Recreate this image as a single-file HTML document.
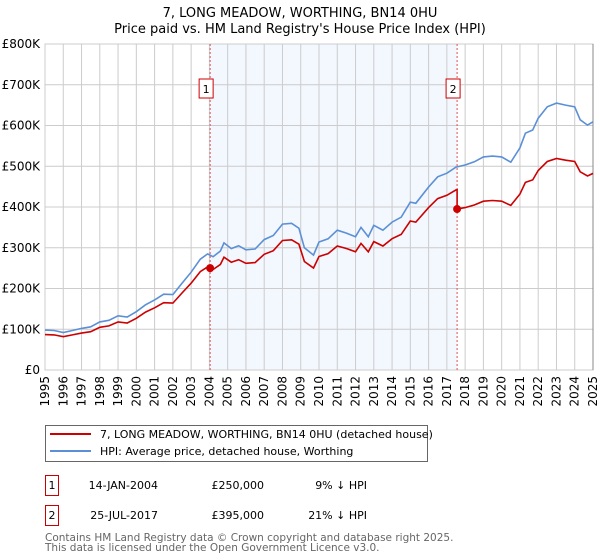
<!DOCTYPE html>
<html><head><meta charset="utf-8"><style>
body{margin:0;background:#fff;font-family:"DejaVu Sans","Liberation Sans",sans-serif;}
#wrap{position:relative;width:600px;height:560px;overflow:hidden;}
</style></head><body>
<div id="wrap">
<svg id="chart" width="600" height="560" font-family="DejaVu Sans, Liberation Sans, sans-serif"></svg>
</div>
<script>
const hpiYears=[1995,1995.5,1996,1996.5,1997,1997.5,1998,1998.5,1999,1999.5,2000,2000.5,2001,2001.5,2002,2002.5,2003,2003.5,2003.9,2004.2,2004.6,2004.8,2005.2,2005.6,2006,2006.5,2007,2007.5,2008,2008.5,2008.9,2009.2,2009.7,2010,2010.5,2011,2011.5,2012,2012.3,2012.7,2013,2013.5,2014,2014.5,2015,2015.3,2016,2016.5,2017,2017.5,2018,2018.5,2019,2019.5,2020,2020.5,2021,2021.3,2021.7,2022,2022.5,2023,2023.5,2024,2024.3,2024.7,2025];
const hpiValues=[98,97,92,97,102,106,118,122,133,130,143,160,172,186,185,213,240,272,285,278,292,312,298,305,295,297,320,330,358,360,348,300,282,314,322,343,336,327,350,327,355,343,363,375,412,409,449,474,483,498,503,511,523,525,523,510,545,581,589,618,646,655,650,646,614,601,609];
const saleDates=[2004.04,2017.56];
const salePrices=[250,395];
const yTicks=[0,100,200,300,400,500,600,700,800];
const yTickLabels=["£0","£100K","£200K","£300K","£400K","£500K","£600K","£700K","£800K"];
const xTicks=[1995,1996,1997,1998,1999,2000,2001,2002,2003,2004,2005,2006,2007,2008,2009,2010,2011,2012,2013,2014,2015,2016,2017,2018,2019,2020,2021,2022,2023,2024,2025];

const svg=document.getElementById('chart');
const NS='http://www.w3.org/2000/svg';
const L=45,R=593,T=44,B=370;
const x=v=>L+(v-1995)/30*(R-L);
const y=v=>B-v/800*(B-T);
function mk(tag,attrs,parent){const e=document.createElementNS(NS,tag);for(const k in attrs)e.setAttribute(k,attrs[k]);(parent||svg).appendChild(e);return e;}
function hpiAt(t){for(let i=0;i<hpiYears.length-1;i++){if(t<=hpiYears[i+1]){const f=(t-hpiYears[i])/(hpiYears[i+1]-hpiYears[i]);return hpiValues[i]+f*(hpiValues[i+1]-hpiValues[i]);}}return hpiValues[hpiValues.length-1];}

let t;
t=mk('text',{x:300,y:17,'text-anchor':'middle','font-size':13,fill:'#000'});t.textContent='7, LONG MEADOW, WORTHING, BN14 0HU';

t=mk('text',{x:300,y:33,'text-anchor':'middle','font-size':13,fill:'#000'});t.textContent="Price paid vs. HM Land Registry's House Price Index (HPI)";


let sh=mk('rect',{x:x(saleDates[0]),y:T,width:x(saleDates[1])-x(saleDates[0]),height:B-T,fill:'#eef3fd',opacity:0.7});


yTicks.forEach((v,i)=>{
 let g=mk('line',{x1:L,x2:R,y1:y(v),y2:y(v),stroke:'#ccc','stroke-width':1});
 
 let tx=mk('text',{x:L-5,y:y(v)+4,'text-anchor':'end','font-size':12,fill:'#000'});tx.textContent=yTickLabels[i];
 
});
xTicks.forEach(v=>{
 let g=mk('line',{x1:x(v),x2:x(v),y1:T,y2:B,stroke:'#ccc','stroke-width':1});
 
 let tx=mk('text',{x:0,y:0,'text-anchor':'end','font-size':12,fill:'#000',transform:`translate(${x(v)+4},${B+6}) rotate(-90)`});tx.textContent=v;
 
});
let ax=mk('rect',{x:L,y:T,width:R-L,height:B-T,fill:'none',stroke:'#ccc'});

let re=mk('line',{x1:R,x2:R,y1:T,y2:B,stroke:'#888','stroke-width':1});


saleDates.forEach((d,i)=>{
 let l=mk('line',{x1:x(d),x2:x(d),y1:T,y2:B,stroke:'#e05050','stroke-width':1,'stroke-dasharray':'2,2'});
 
 let bx=mk('rect',{x:x(d)-11,y:79,width:14,height:19,fill:'#fff',stroke:'#c00'});
 
 let tx=mk('text',{x:x(d)-4,y:93,'text-anchor':'middle','font-size':11,fill:'#000'});tx.textContent=String(i+1);
 
});

let hp=hpiYears.map((v,i)=>(i?'L':'M')+x(v).toFixed(1)+','+y(hpiValues[i]).toFixed(1)).join('');
let hl=mk('path',{d:hp,fill:'none',stroke:'#5b8fd6','stroke-width':1.6});


let pts=[];
const f0=salePrices[0]/hpiAt(saleDates[0]),f1=salePrices[1]/hpiAt(saleDates[1]);
hpiYears.forEach((v,i)=>{if(v<saleDates[1])pts.push([v,hpiValues[i]*f0]);});
pts.push([saleDates[1],hpiAt(saleDates[1])*f0]);
pts.push([saleDates[1],salePrices[1]]);
hpiYears.forEach((v,i)=>{if(v>saleDates[1])pts.push([v,hpiValues[i]*f1]);});
let pl=mk('path',{d:pts.map((p,i)=>(i?'L':'M')+x(p[0]).toFixed(1)+','+y(p[1]).toFixed(1)).join(''),fill:'none',stroke:'#cc0000','stroke-width':1.6});

saleDates.forEach((d,i)=>{
 let c=mk('circle',{cx:x(d),cy:y(salePrices[i]),r:4,fill:'#cc0000'});
 
});

let lg=mk('rect',{x:45.5,y:425.5,width:382,height:36,fill:'#fff',stroke:'#666'});

let l1=mk('line',{x1:50,x2:91,y1:434,y2:434,stroke:'#cc0000','stroke-width':2});

t=mk('text',{x:100,y:438,'font-size':11,fill:'#000'});t.textContent='7, LONG MEADOW, WORTHING, BN14 0HU (detached house)';

let l2=mk('line',{x1:50,x2:91,y1:451,y2:451,stroke:'#5b8fd6','stroke-width':2});

t=mk('text',{x:100,y:455,'font-size':11,fill:'#000'});t.textContent='HPI: Average price, detached house, Worthing';


const rows=[["1","14-JAN-2004","£250,000","9% ↓ HPI"],["2","25-JUL-2017","£395,000","21% ↓ HPI"]];
rows.forEach((r,i)=>{
 const yy=475+i*30;
 let b=mk('rect',{x:45.5,y:yy+0.5,width:13,height:20,fill:'#fff',stroke:'#c00'});
 
 let a=mk('text',{x:52,y:yy+14,'text-anchor':'middle','font-size':11});a.textContent=r[0];
 
 let d=mk('text',{x:158,y:yy+14,'text-anchor':'end','font-size':11});d.textContent=r[1];
 
 let p=mk('text',{x:264,y:yy+14,'text-anchor':'end','font-size':11});p.textContent=r[2];
 
 let h=mk('text',{x:367,y:yy+14,'text-anchor':'end','font-size':11});h.textContent=r[3];
 
});
t=mk('text',{x:45,y:541,'font-size':10.5,fill:'#666'});t.textContent='Contains HM Land Registry data © Crown copyright and database right 2025.';

t=mk('text',{x:45,y:551,'font-size':10.5,fill:'#666'});t.textContent='This data is licensed under the Open Government Licence v3.0.';

</script>
</body></html>
